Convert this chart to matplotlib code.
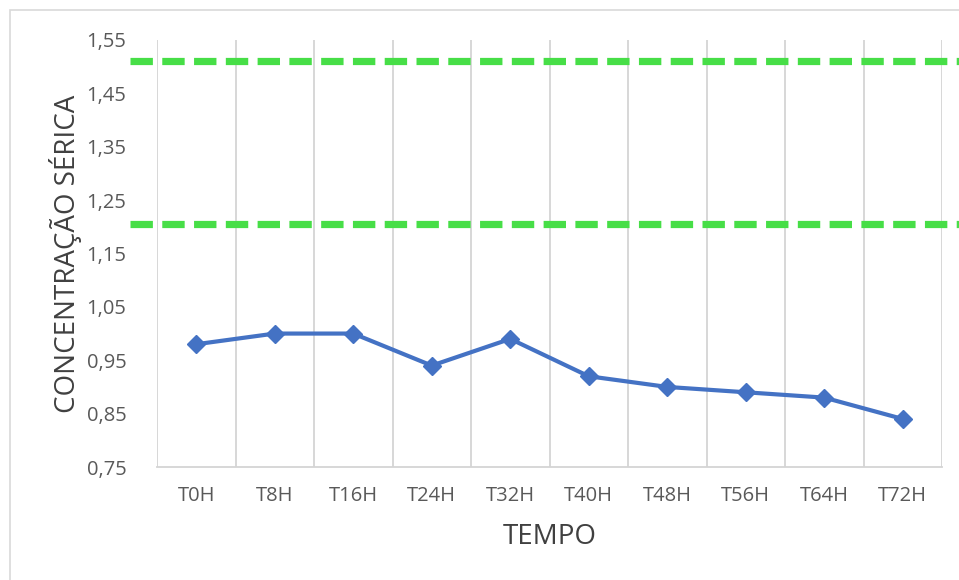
import matplotlib.pyplot as plt
from matplotlib.patches import Rectangle

plt.rcParams['font.family'] = ['Open Sans', 'DejaVu Sans']

tempos = ['T0H', 'T8H', 'T16H', 'T24H', 'T32H', 'T40H', 'T48H', 'T56H', 'T64H', 'T72H']
concentracao = [0.98, 1.00, 1.00, 0.94, 0.99, 0.92, 0.90, 0.89, 0.88, 0.84]
limites = [1.51, 1.205]
y_ticks = [0.75, 0.85, 0.95, 1.05, 1.15, 1.25, 1.35, 1.45, 1.55]

fig = plt.figure(figsize=(9.59, 5.80), dpi=100)
ax = fig.add_axes([157 / 959, 1 - 467 / 580, 785 / 959, 427 / 580])

# moldura clara em volta do grafico
fig.patches.append(Rectangle((10 / 959, -0.05), 1.0, 1 - 10 / 580 + 0.05,
                             transform=fig.transFigure, fill=False,
                             edgecolor='#d9d9d9', linewidth=1.2))

x = list(range(len(tempos)))
ax.plot(x, concentracao, color='#4472c4', linewidth=3, marker='D',
        markersize=9, zorder=3)

for lim in limites:
    ax.plot([-0.035, 1.03], [lim, lim], transform=ax.get_yaxis_transform(),
            color='#47de47', linewidth=5.2, dashes=(3.1, 1.3),
            clip_on=False, zorder=4)

ax.set_xlim(-0.5, len(tempos) - 0.5)
ax.set_ylim(0.75, 1.55)
ax.set_yticks(y_ticks)
ax.set_yticklabels([f'{v:.2f}'.replace('.', ',') for v in y_ticks])
ax.set_xticks(x)
ax.set_xticklabels(tempos)

# grade vertical entre as categorias
for b in range(len(tempos) + 1):
    ax.axvline(b - 0.5, color='#d4d4d4', linewidth=1.3, zorder=1)

for s in ['top', 'right', 'left']:
    ax.spines[s].set_visible(False)
ax.spines['bottom'].set_color('#d4d4d4')
ax.spines['bottom'].set_linewidth(1.3)

ax.tick_params(axis='both', length=0, labelsize=14.5, colors='#595959')
ax.tick_params(axis='x', pad=14)
ax.tick_params(axis='y', pad=22)

ax.set_xlabel('TEMPO', fontsize=20, color='#404040', labelpad=12)
ax.set_ylabel('CONCENTRAÇÃO SÉRICA', fontsize=20, color='#404040', labelpad=3)

fig.savefig('out.png', dpi=100)
